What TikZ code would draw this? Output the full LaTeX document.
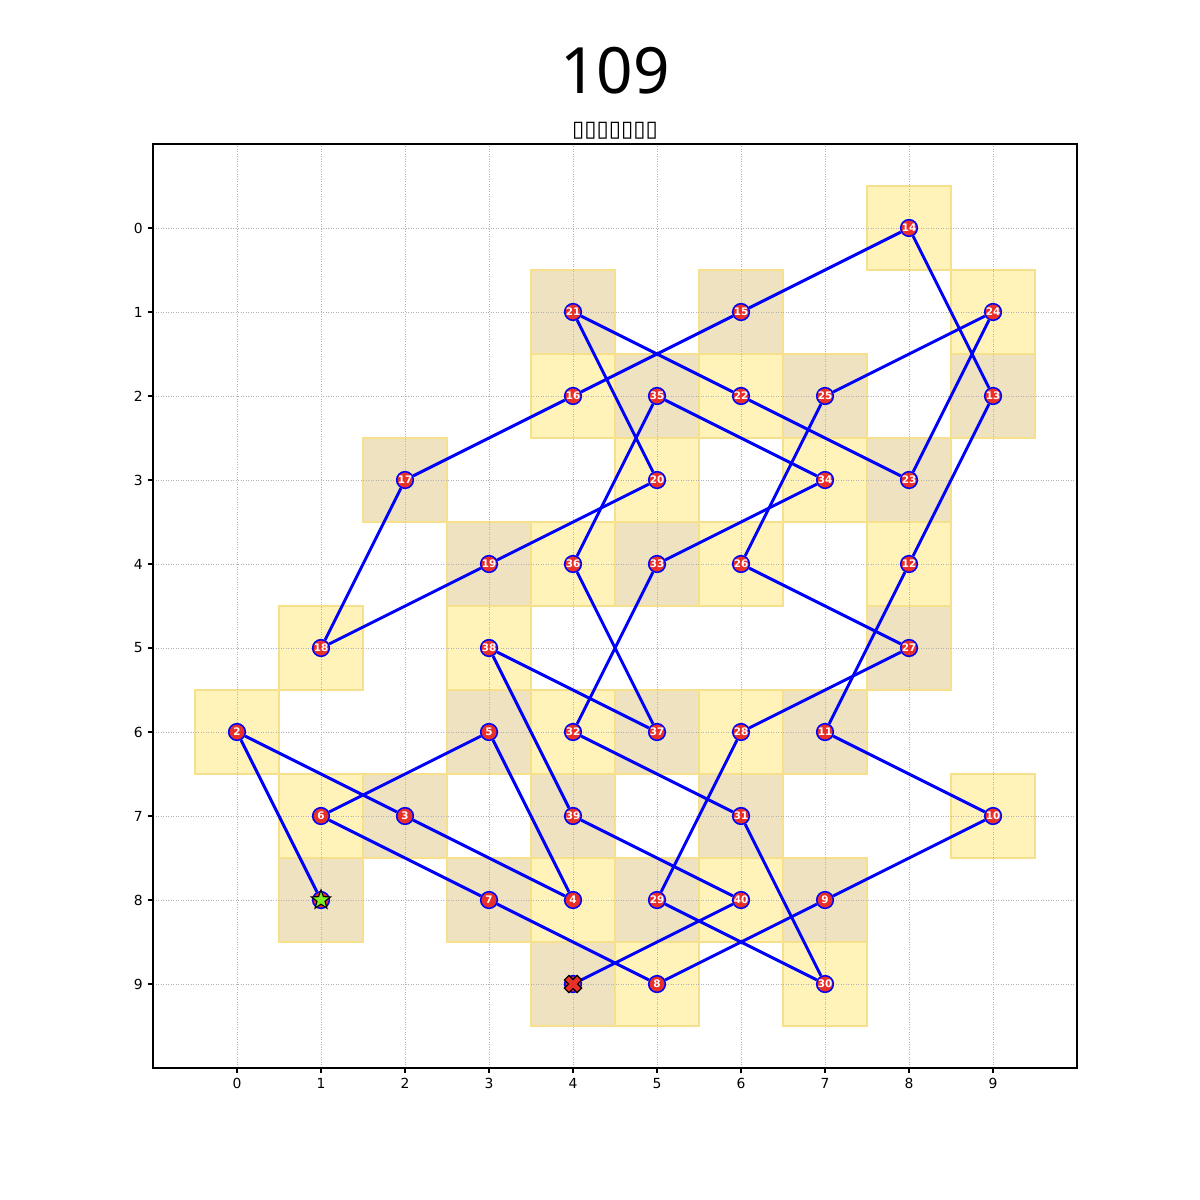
\documentclass[tikz,border=0pt]{standalone}
\usepackage{fontspec}
\setmainfont{DejaVu Sans}
\newfontfamily\titlefont{Noto Sans}
\usetikzlibrary{shapes.geometric}
\definecolor{yelcell}{RGB}{255,243,186}
\definecolor{tancell}{RGB}{238,226,193}
\definecolor{celledge}{RGB}{246,224,140}
\definecolor{nodered}{RGB}{232,48,40}
\definecolor{stargreen}{RGB}{124,240,30}
\tikzset{
  knot/.style={circle, fill=nodered, draw=blue, line width=1.1pt, inner sep=0pt, minimum size=12pt, text=white, font=\bfseries\fontsize{7.5}{7.5}\selectfont},
  tourline/.style={draw=blue, line width=2.1pt},
  gridline/.style={draw=gray!60, line width=0.5pt, dash pattern=on 0.6pt off 1.2pt},
  tick/.style={line width=0.8pt},
  ticklabel/.style={font=\fontsize{10}{12}\selectfont, inner sep=0pt},
}
\begin{document}
\begin{tikzpicture}[x=0.72pt, y=-0.72pt]
\useasboundingbox[fill=white] (0,0) rectangle (1200,1200);
\node[font=\titlefont\fontsize{46}{50}\selectfont, anchor=base, inner sep=0pt] (title) at (615,94) {109};
\node[font=\fontsize{16}{18}\selectfont, anchor=base, inner sep=0pt] (subtitle) at (615,137) {▯▯▯▯▯▯▯};
\begin{scope}[shift={(170.64pt,-164.16pt)}, x=60.48pt, y=-60.48pt]
  % cells
  \foreach \c/\r/\i in {1/8/1,0/6/2,2/7/3,4/8/4,3/6/5,1/7/6,3/8/7,5/9/8,7/8/9,9/7/10,7/6/11,8/4/12,9/2/13,8/0/14,6/1/15,4/2/16,2/3/17,1/5/18,3/4/19,5/3/20,4/1/21,6/2/22,8/3/23,9/1/24,7/2/25,6/4/26,8/5/27,6/6/28,5/8/29,7/9/30,6/7/31,4/6/32,5/4/33,7/3/34,5/2/35,4/4/36,5/6/37,3/5/38,4/7/39,6/8/40,4/9/41}{
    \pgfmathtruncatemacro\pp{mod(\c+\r,2)}
    \ifodd\pp\def\cc{tancell}\else\def\cc{yelcell}\fi
    \fill[\cc, draw=celledge, line width=0.8pt] (\c-0.5,\r-0.5) rectangle (\c+0.5,\r+0.5);
  }
  % grid
  \foreach \k in {0,...,9}{
    \draw[gridline] (\k,-1) -- (\k,10);
    \draw[gridline] (-1,\k) -- (10,\k);
  }
  % axes frame
  \draw[line width=0.8pt] (-1,-1) rectangle (10,10);
  \foreach \k in {0,...,9}{
    \draw[tick] (\k,10) -- ++(0,-3.5pt) node[ticklabel, anchor=north, yshift=-3.5pt] (xl\k) {\k};
    \draw[tick] (-1,\k) -- ++(-3.5pt,0) node[ticklabel, anchor=east, xshift=-3.5pt] (yl\k) {\k};
  }
  % nodes
  \foreach \c/\r/\i in {1/8/1,0/6/2,2/7/3,4/8/4,3/6/5,1/7/6,3/8/7,5/9/8,7/8/9,9/7/10,7/6/11,8/4/12,9/2/13,8/0/14,6/1/15,4/2/16,2/3/17,1/5/18,3/4/19,5/3/20,4/1/21,6/2/22,8/3/23,9/1/24,7/2/25,6/4/26,8/5/27,6/6/28,5/8/29,7/9/30,6/7/31,4/6/32,5/4/33,7/3/34,5/2/35,4/4/36,5/6/37,3/5/38,4/7/39,6/8/40,4/9/41}{
    \ifnum\i=1
      \node[knot] (n\i) at (\c,\r) {};
    \else\ifnum\i=41
      \node[knot] (n\i) at (\c,\r) {};
    \else
      \node[knot] (n\i) at (\c,\r) {\i};
    \fi\fi
  }
  % tour lines
  \foreach \a in {1,...,40}{
    \pgfmathtruncatemacro\b{\a+1}
    \draw[tourline] (n\a) -- (n\b);
  }
  % start star
  \node[star, star points=5, star point ratio=2.4, fill=stargreen, draw=black, line width=0.8pt, inner sep=0pt, minimum size=14.5pt] (startmark) at (n1) {};
  % end X
  \begin{scope}[shift={(n41)}, rotate=45, x=0.72pt, y=-0.72pt]
    \filldraw[fill=nodered, draw=black, line width=0.8pt]
      (3.2,9) -- (3.2,3.2) -- (9,3.2) -- (9,-3.2) -- (3.2,-3.2) -- (3.2,-9) -- (-3.2,-9) -- (-3.2,-3.2) -- (-9,-3.2) -- (-9,3.2) -- (-3.2,3.2) -- (-3.2,9) -- cycle;
  \end{scope}
\end{scope}
\end{tikzpicture}
\end{document}
